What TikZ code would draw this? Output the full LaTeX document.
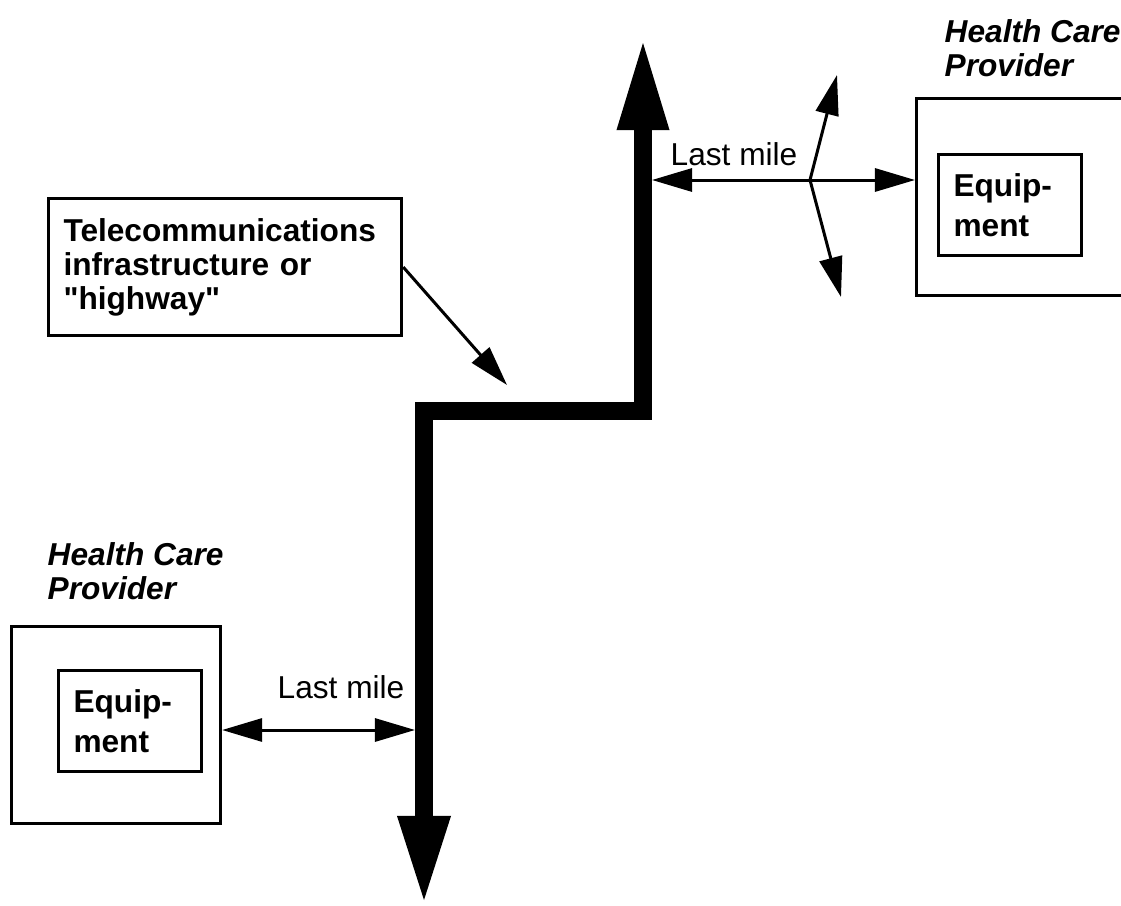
\documentclass[tikz,border=0pt]{standalone}
\usepackage{fontspec}
\setmainfont{Liberation Sans}
\usetikzlibrary{arrows.meta, positioning}

\begin{document}
\begin{tikzpicture}[
    x = 0.01cm, y = -0.01cm,
    every node/.style = {inner sep=0pt, font=\fontsize{9}{9.7}\selectfont},
    provider/.style = {draw, line width=0.03cm, anchor=north west,
        minimum width=2.09cm, minimum height=1.97cm},
    equip/.style = {draw, line width=0.03cm, anchor=north west,
        text width=1.13cm, inner xsep=0.15cm, minimum height=1.01cm,
        align=left, font=\fontsize{9}{11.4}\selectfont\bfseries},
    lbl/.style = {anchor=west, align=left,
        font=\fontsize{9}{9.7}\selectfont\bfseries\itshape},
    callout/.style = {draw, line width=0.03cm, anchor=north west,
        text width=3.23cm, inner xsep=0.15cm, minimum height=1.37cm,
        align=left, font=\fontsize{9}{9.7}\selectfont\bfseries},
    link/.style = {line width=0.03cm,
        {Triangle[length=0.4cm, width=0.23cm]}-{Triangle[length=0.4cm, width=0.23cm]}},
    pointer/.style = {line width=0.03cm, -{Triangle[length=0.4cm, width=0.23cm]}},
    highway/.style = {line width=0.18cm,
        {Triangle[length=0.87cm, width=0.53cm, line width=0pt]}-{Triangle[length=0.84cm, width=0.54cm, line width=0pt]}}
    ]
    \useasboundingbox (0,0) rectangle (1121,906);
    %
    % the highway
    \coordinate (hwTop) at (643,43);
    \coordinate (hwR) at (643,411);
    \coordinate (hwL) at (424,411);
    \coordinate (hwBot) at (424,900);
    \draw[highway] (hwTop) -- (hwR) -- (hwL) -- (hwBot);
    %
    \node[callout] (tele) at (47,197)
        {Telecommunications\\infrastructure or\\\textquotedbl highway\textquotedbl};
    \coordinate (teleTip) at (507,385);
    \draw[pointer] (tele.east) -- (teleTip);
    %
    % provider, top right
    \node[provider] (hcpR) at (915,97) {};
    \node[equip] (eqR) at (937,153) {Equip-\\ment};
    \node[lbl] (hcpRlbl) at (944,48) {Health Care\\Provider};
    \coordinate (hwRside) at (652,180);
    \coordinate (fork) at (810,180);
    \coordinate (forkUp) at (837,75);
    \coordinate (forkDown) at (841,297);
    \draw[link] (hwRside) -- (hwRside -| hcpR.west);
    \draw[link] (forkUp) -- (fork) -- (forkDown);
    \node[anchor=base west] (lmR) at (670,165) {Last mile};
    %
    % provider, bottom left
    \node[provider] (hcpL) at (10,625) {};
    \node[equip] (eqL) at (57,669) {Equip-\\ment};
    \node[lbl] (hcpLlbl) at (47,571) {Health Care\\Provider};
    \coordinate (hwLside) at (415,730);
    \draw[link] (hwLside -| hcpL.east) -- (hwLside);
    \node[anchor=base west] (lmL) at (277,698) {Last mile};
\end{tikzpicture}
\end{document}
